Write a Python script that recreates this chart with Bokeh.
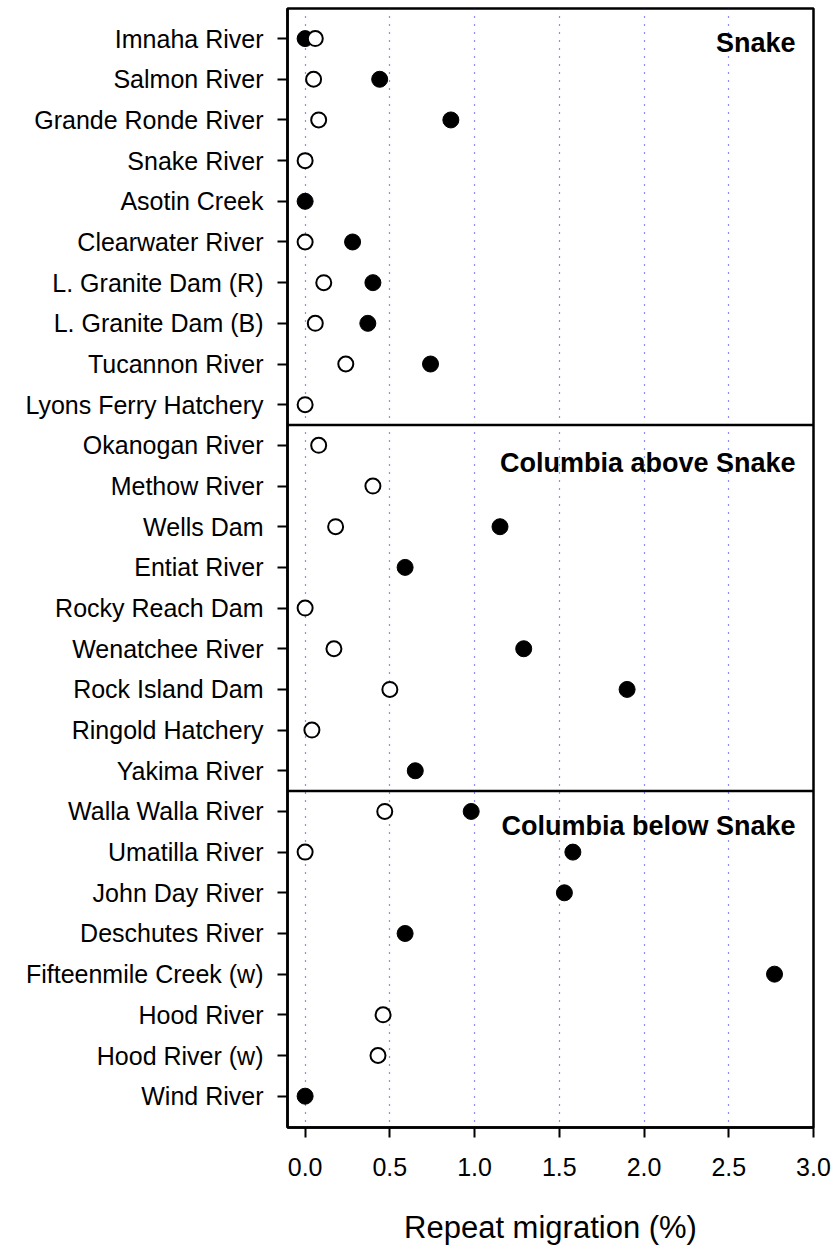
import math
from bokeh.plotting import figure
from bokeh.models import Range1d, FixedTicker, Span, ColumnDataSource
from bokeh.core.properties import value
from bokeh.embed import file_html
from bokeh.resources import INLINE

nan = float("nan")

categories = [
    "Imnaha River", "Salmon River", "Grande Ronde River", "Snake River",
    "Asotin Creek", "Clearwater River", "L. Granite Dam (R)", "L. Granite Dam (B)",
    "Tucannon River", "Lyons Ferry Hatchery",
    "Okanogan River", "Methow River", "Wells Dam", "Entiat River",
    "Rocky Reach Dam", "Wenatchee River", "Rock Island Dam", "Ringold Hatchery",
    "Yakima River",
    "Walla Walla River", "Umatilla River", "John Day River", "Deschutes River",
    "Fifteenmile Creek (w)", "Hood River", "Hood River (w)", "Wind River",
]

filled_values = [
    0.0, 0.44, 0.86, nan, 0.0, 0.28, 0.40, 0.37, 0.74, nan,
    nan, nan, 1.15, 0.59, nan, 1.29, 1.90, nan, 0.65,
    0.98, 1.58, 1.53, 0.59, 2.77, nan, nan, 0.0,
]

open_values = [
    0.06, 0.05, 0.08, 0.0, nan, 0.0, 0.11, 0.06, 0.24, 0.0,
    0.08, 0.40, 0.18, nan, 0.0, 0.17, 0.50, 0.04, nan,
    0.47, 0.0, nan, nan, nan, 0.46, 0.43, nan,
]

group_names = ["Snake", "Columbia above Snake", "Columbia below Snake"]
group_sizes = [10, 9, 8]

x_ticks = [0.0, 0.5, 1.0, 1.5, 2.0, 2.5, 3.0]
x_tick_labels = ["0.0", "0.5", "1.0", "1.5", "2.0", "2.5", "3.0"]

FONT = "Liberation Sans"
n = len(categories)
rows = list(range(n))

p = figure(
    width=837, height=1247,
    x_range=Range1d(-0.104, 3.0),
    y_range=Range1d(n - 1 + 0.77, -0.74),
    output_backend="svg", toolbar_location=None,
    min_border_left=287, min_border_right=24, min_border_top=8, min_border_bottom=118,
)
p.background_fill_color = "white"
p.border_fill_color = "white"
p.outline_line_color = "black"
p.outline_line_width = 2.5

# grid
p.ygrid.grid_line_color = None
p.xgrid.ticker = FixedTicker(ticks=x_ticks[:-1])
p.xgrid.grid_line_color = "#1a1aff"
p.xgrid.grid_line_width = 1.2
p.xgrid.grid_line_dash = "1 7"

# x axis
p.xaxis.ticker = FixedTicker(ticks=x_ticks)
p.xaxis.major_label_overrides = {t: l for t, l in zip(x_ticks, x_tick_labels)}
p.xaxis.axis_label = "Repeat migration (%)"
p.xaxis.axis_label_text_font = FONT
p.xaxis.axis_label_text_font_size = "31px"
p.xaxis.axis_label_text_font_style = "normal"
p.xaxis.axis_label_text_color = "black"
p.xaxis.axis_label_standoff = 31
p.xaxis.major_label_text_font = FONT
p.xaxis.major_label_text_font_size = "25px"
p.xaxis.major_label_text_color = "black"
p.xaxis.major_label_standoff = 20
p.xaxis.major_tick_out = 10
p.xaxis.major_tick_in = 0
p.xaxis.minor_tick_line_color = None
p.xaxis.major_tick_line_width = 2
p.xaxis.axis_line_width = 2.5
p.xaxis.axis_line_color = "black"

# y axis
p.yaxis.ticker = FixedTicker(ticks=rows)
p.yaxis.major_label_overrides = {i: c for i, c in enumerate(categories)}
p.yaxis.major_label_text_font = FONT
p.yaxis.major_label_text_font_size = "25px"
p.yaxis.major_label_text_color = "black"
p.yaxis.major_label_standoff = 14
p.yaxis.major_tick_out = 10
p.yaxis.major_tick_in = 0
p.yaxis.minor_tick_line_color = None
p.yaxis.major_tick_line_width = 2
p.yaxis.axis_line_width = 2.5
p.yaxis.axis_line_color = "black"

# separators between groups
acc = 0
for size in group_sizes[:-1]:
    acc += size
    p.add_layout(Span(location=acc - 0.5, dimension="width",
                      line_color="black", line_width=2.5))

# points
src_f = ColumnDataSource(dict(x=filled_values, y=rows))
src_o = ColumnDataSource(dict(x=open_values, y=rows))
p.scatter("x", "y", source=src_f, size=16, fill_color="black",
          line_color="black", line_width=1)
p.scatter("x", "y", source=src_o, size=15, fill_color="white",
          line_color="black", line_width=2)

# group labels
starts = [0]
for s in group_sizes[:-1]:
    starts.append(starts[-1] + s)
label_offsets = [0.1, 0.43, 0.36]
src_l = ColumnDataSource(dict(
    x=[3.0] * len(group_names),
    y=[s + o for s, o in zip(starts, label_offsets)],
    t=group_names,
))
p.text("x", "y", text="t", source=src_l, x_offset=-18,
       text_align="right", text_baseline="middle",
       text_font=value(FONT), text_font_size="27px",
       text_font_style="bold", text_color="black")

open("out.html", "w").write(file_html(p, INLINE))
